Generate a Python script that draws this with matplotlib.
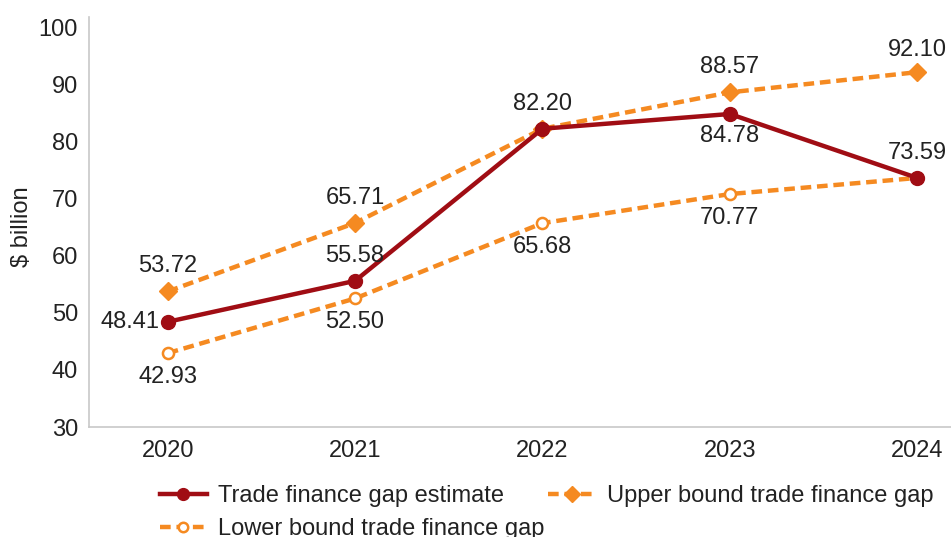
import numpy as np
import matplotlib.pyplot as plt

plt.rcParams['font.family'] = ['Liberation Sans', 'DejaVu Sans']

years = ['2020', '2021', '2022', '2023', '2024']
gap_estimate = [48.41, 55.58, 82.20, 84.78, 73.59]
upper_bound = [53.72, 65.71, 82.20, 88.57, 92.10]
lower_bound = [42.93, 52.50, 65.68, 70.77, 73.59]

dark_red = '#A00D14'
orange = '#F58A21'
text_col = '#222222'

fig = plt.figure(figsize=(9.51, 5.37), dpi=100)
ax = fig.add_axes([0.0936, 0.2048, 0.9064, 0.7449])
x = np.arange(len(years))

ax.plot(x, upper_bound, color=orange, lw=3.2, ls=(0, (2.4, 1.3)),
        marker='D', ms=9, mfc=orange, mec=orange, clip_on=False,
        label='Upper bound trade finance gap', zorder=2)
ax.plot(x, lower_bound, color=orange, lw=3.2, ls=(0, (2.4, 1.3)),
        marker='o', ms=8, mfc='white', mec=orange, mew=1.8, clip_on=False,
        label='Lower bound trade finance gap', zorder=2)
ax.plot(x, gap_estimate, color=dark_red, lw=3.2, marker='o', ms=10,
        mfc=dark_red, mec=dark_red, clip_on=False,
        label='Trade finance gap estimate', zorder=3)

fs = 17
def lab(i, v, dx, dy, ha='center'):
    ax.annotate(f'{v:.2f}', (x[i], v), xytext=(dx, dy), textcoords='offset points',
                ha=ha, va='center', fontsize=fs, color=text_col)

# estimate labels
lab(0, gap_estimate[0], -6, 0, ha='right')
lab(1, gap_estimate[1], 0, 18)
lab(2, gap_estimate[2], 0, 18)
lab(3, gap_estimate[3], 0, -16)
lab(4, gap_estimate[4], 0, 18)
# upper bound labels
for i in (0, 1, 3):
    lab(i, upper_bound[i], 0, 18)
lab(4, upper_bound[4], 0, 16)
# lower bound labels
for i in (0, 1, 2, 3):
    lab(i, lower_bound[i], 0, -17)

ax.set_xlim(-0.42, 4.18)
ax.set_ylim(30, 100)
ax.set_yticks(range(30, 101, 10))
ax.set_xticks(x)
ax.set_xticklabels(years)
ax.tick_params(axis='both', length=0, labelsize=fs, colors=text_col)
ax.tick_params(axis='x', pad=9)
ax.tick_params(axis='y', pad=8)
for s in ('top', 'right'):
    ax.spines[s].set_visible(False)
for s in ('left', 'bottom'):
    ax.spines[s].set_color('#c8c8c8')
    ax.spines[s].set_linewidth(1.2)
ax.spines['left'].set_bounds(30, 101.8)
ax.set_ylabel('$ billion', fontsize=fs, color=text_col, labelpad=4)

h, l = ax.get_legend_handles_labels()
order = [2, 1, 0]
fig.legend([h[k] for k in order], [l[k] for k in order], ncol=2,
           loc='upper left', bbox_to_anchor=(0.168, 0.097), frameon=False,
           fontsize=fs, handlelength=2.0, handletextpad=0.47,
           columnspacing=0.17, labelspacing=0.48, borderaxespad=0,
           borderpad=0, labelcolor=text_col, markerscale=0.85)

fig.savefig('out.png', dpi=100)
